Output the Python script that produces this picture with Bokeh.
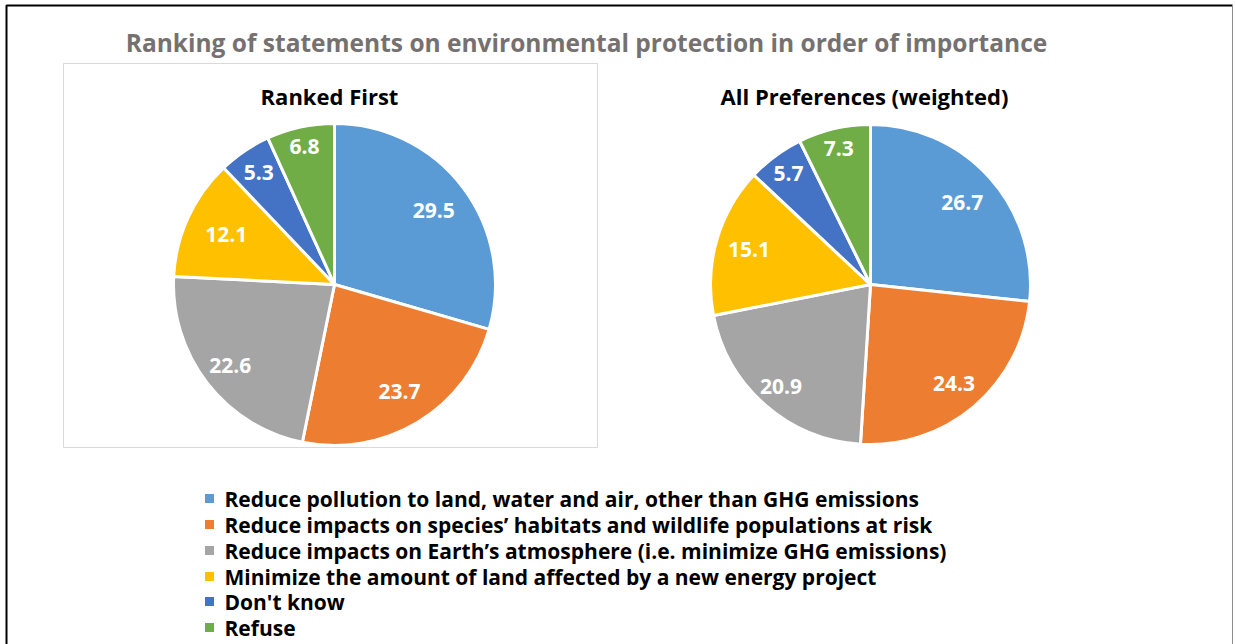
import math
from bokeh.plotting import figure
from bokeh.models import Range1d, ColumnDataSource
from bokeh.core.properties import value
from bokeh.embed import file_html
from bokeh.resources import INLINE

# ---------------- data ----------------
categories = [
    "Reduce pollution to land, water and air, other than GHG emissions",
    "Reduce impacts on species\u2019 habitats and wildlife populations at risk",
    "Reduce impacts on Earth\u2019s atmosphere (i.e. minimize GHG emissions)",
    "Minimize the amount of land affected by a new energy project",
    "Don't know",
    "Refuse",
]
ranked_first = [29.5, 23.7, 22.6, 12.1, 5.3, 6.8]
all_preferences = [26.7, 24.3, 20.9, 15.1, 5.7, 7.3]
colors = ["#5B9BD5", "#ED7D31", "#A5A5A5", "#FFC000", "#4472C4", "#70AD47"]

title = "Ranking of statements on environmental protection in order of importance"
sub_left = "Ranked First"
sub_right = "All Preferences (weighted)"

# ---------------- layout ----------------
FW, FH = 1236, 644
FONT = "Open Sans"


def X(sx):
    return sx


def Y(sy):
    return FH - sy


p = figure(width=FW, height=FH, x_range=Range1d(0, FW), y_range=Range1d(0, FH),
           min_border=0, toolbar_location=None, output_backend="svg",
           x_axis_location=None, y_axis_location=None)
p.grid.visible = False
p.outline_line_color = None
p.background_fill_color = "white"
p.border_fill_color = "white"

# outer frame
p.line(x=[X(6), X(6), X(1232)], y=[Y(700), Y(5), Y(5)], line_color="black", line_width=2)
p.line(x=[X(1232), X(1232)], y=[Y(5), Y(700)], line_color="#8c8c8c", line_width=1)

# left chart area border
p.quad(left=[X(63)], right=[X(597)], top=[Y(63)], bottom=[Y(447)],
       fill_color=None, line_color="#d9d9d9", line_width=1)

# title
p.text(x=[X(586)], y=[Y(42)], text=[title], text_font=value(FONT), text_font_style="bold",
       text_font_size="24.5px", text_color="#767171", text_align="center", text_baseline="middle")
p.text(x=[X(329)], y=[Y(95)], text=[sub_left], text_font=value(FONT), text_font_style="bold",
       text_font_size="22px", text_color="black", text_align="center", text_baseline="middle")
p.text(x=[X(864)], y=[Y(95)], text=[sub_right], text_font=value(FONT), text_font_style="bold",
       text_font_size="22px", text_color="black", text_align="center", text_baseline="middle")


def pie(vals, cx, cy, r, lab_frac):
    tot = sum(vals)
    starts, ends, lx, ly, txt = [], [], [], [], []
    cum = 0.0
    for v, f in zip(vals, lab_frac):
        a0 = math.pi / 2 - 2 * math.pi * cum / tot
        a1 = math.pi / 2 - 2 * math.pi * (cum + v) / tot
        starts.append(a0)
        ends.append(a1)
        mid = (a0 + a1) / 2
        lx.append(X(cx) + f * r * math.cos(mid))
        ly.append(Y(cy) + f * r * math.sin(mid))
        txt.append(f"{v:.1f}")
        cum += v
    src = ColumnDataSource(dict(start=starts, end=ends, color=colors))
    p.wedge(x=X(cx), y=Y(cy), radius=r, radius_units="screen", start_angle="start",
            end_angle="end", direction="clock", fill_color="color", line_color="white",
            line_width=3, source=src)
    p.text(x=lx, y=ly, text=txt, text_font=value(FONT), text_font_style="bold",
           text_font_size="21px", text_color="white", text_align="center", text_baseline="middle")


pie(ranked_first, 334, 284, 161, [0.77, 0.78, 0.82, 0.74, 0.84, 0.88])
pie(all_preferences, 870, 284, 160, [0.77, 0.81, 0.85, 0.79, 0.86, 0.87])

# legend
leg_y = [498, 524, 550, 576, 601, 627]
p.rect(x=[X(209)] * len(categories), y=[Y(v) for v in leg_y], width=9, height=9,
       width_units="screen", height_units="screen", fill_color=colors, line_color=None)
p.text(x=[X(224)] * len(categories), y=[Y(v) for v in leg_y], text=categories,
       text_font=value(FONT), text_font_style="bold", text_font_size="21px", text_color="black",
       text_align="left", text_baseline="middle")

open("out.html", "w").write(file_html(p, INLINE))
